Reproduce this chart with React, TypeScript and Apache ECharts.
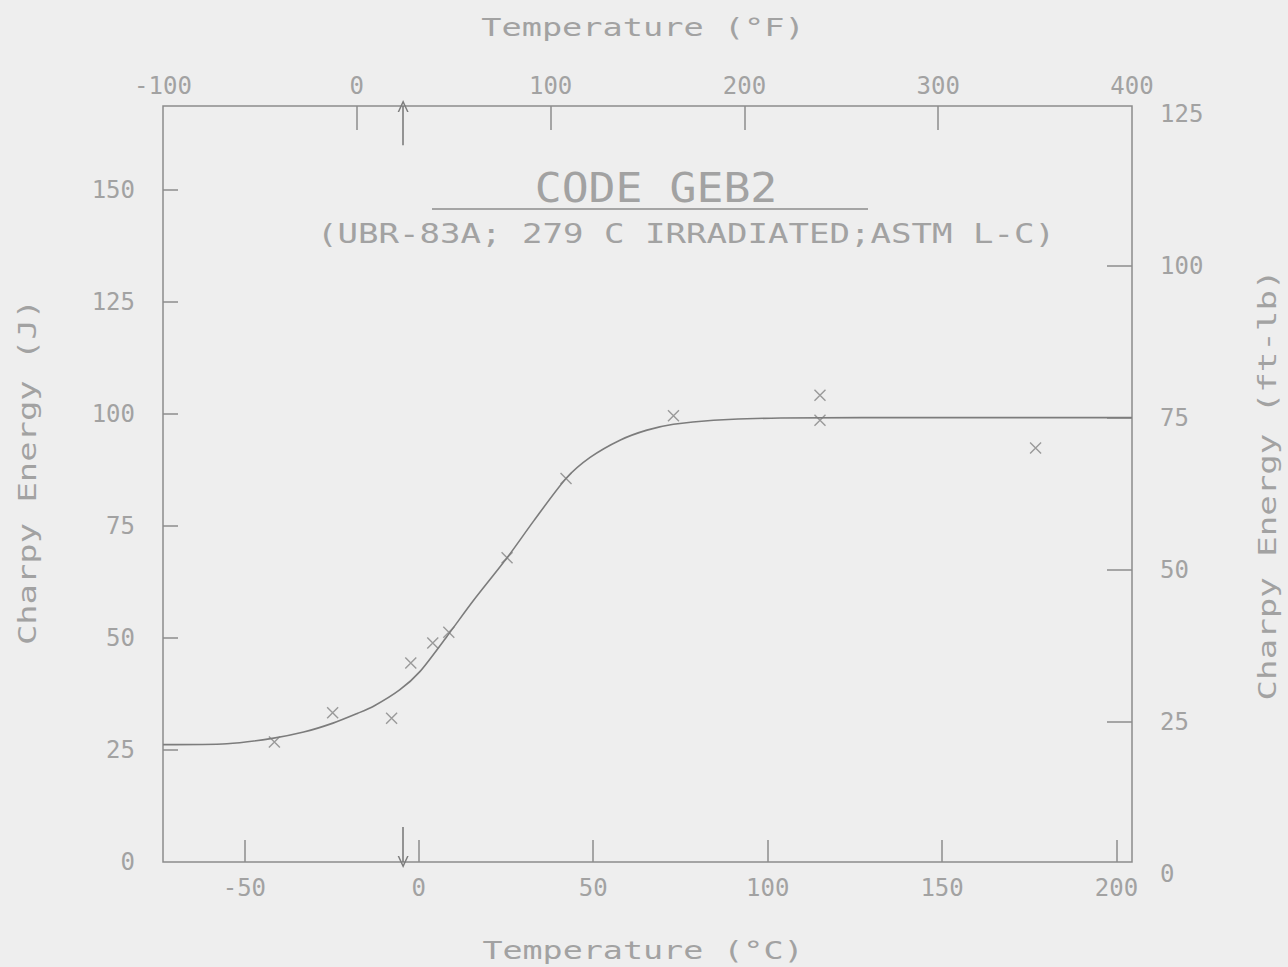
import React, { useEffect, useRef } from 'react';
import * as echarts from 'echarts';

// ---- data ----
const curveTempC = [-73.3, -55, -42, -33, -24.6, -17.5, -13.1, -5.5, 0.3, 8.0, 15.6, 25.3, 33, 42.2, 49.1, 57.8, 65.4, 73, 84.5, 103.7, 150, 204.4];
const curveEnergyJ = [26.2, 26.4, 27.6, 29.0, 31.0, 33.2, 34.7, 38.4, 42.5, 50.3, 58.3, 67.9, 76.2, 85.6, 90.3, 94.2, 96.4, 97.7, 98.6, 99.1, 99.2, 99.2];

const pointTempC = [-41.4, -24.7, -7.8, -2.3, 4.0, 8.6, 25.3, 42.2, 73.0, 115.0, 115.0, 176.8];
const pointEnergyJ = [26.8, 33.3, 32.1, 44.4, 48.9, 51.3, 67.9, 85.6, 99.6, 104.2, 98.6, 92.4];

const arrowTempC = -4.5;
const topArrowFromJ = 160;
const bottomArrowFromJ = 7.8;

const celsiusTicks = [-50, 0, 50, 100, 150, 200];
const fahrenheitLabels = [-100, 0, 100, 200, 300, 400];
const fahrenheitTickMarks = [0, 100, 200, 300];
const jouleTicks = [0, 25, 50, 75, 100, 125, 150];
const jouleTickMarks = [25, 50, 75, 100, 125, 150];
const ftlbTicks = [0, 25, 50, 75, 100, 125];
const ftlbTickMarks = [25, 50, 75, 100];

const C_MIN = -73.33;
const C_MAX = 204.44;
const J_MAX = 168.75;

const TITLE = 'CODE GEB2';
const SUBTITLE = '(UBR-83A; 279 C IRRADIATED;ASTM L-C)';

// ---- styles ----
const BG = '#eeeeee';
const TEXT = '#a2a2a2';
const FRAME = '#8c8c8c';
const CURVE = '#7c7c7c';
const MONO = '"DejaVu Sans Mono", "Liberation Mono", monospace';

const labelStyle = { color: TEXT, fontSize: 24, fontFamily: MONO };
const noLine = { show: false, onZero: false };

const option: any = {
  animation: false,
  backgroundColor: BG,
  grid: [
    { left: 163, top: 106, width: 969, height: 756, show: true, borderColor: FRAME, borderWidth: 1.5, backgroundColor: 'transparent' },
    { left: 163, top: 114, width: 969, height: 760, show: false },
  ],
  xAxis: [
    {
      type: 'value', gridIndex: 0, position: 'bottom', min: C_MIN, max: C_MAX,
      axisLine: noLine, splitLine: { show: false },
      axisTick: { show: true, inside: true, length: 22, customValues: celsiusTicks, lineStyle: { color: FRAME, width: 1.5 } },
      axisLabel: { ...labelStyle, customValues: celsiusTicks, margin: 14 },
    },
    {
      type: 'value', gridIndex: 0, position: 'top', min: -100, max: 400, interval: 100,
      axisLine: noLine, splitLine: { show: false },
      axisTick: { show: true, inside: true, length: 24, customValues: fahrenheitTickMarks, lineStyle: { color: FRAME, width: 1.5 } },
      axisLabel: { ...labelStyle, customValues: fahrenheitLabels, margin: 8, showMinLabel: true, showMaxLabel: true },
    },
    { type: 'value', gridIndex: 1, show: false, min: C_MIN, max: C_MAX, axisLine: noLine },
  ],
  yAxis: [
    {
      type: 'value', gridIndex: 0, position: 'left', min: 0, max: J_MAX, interval: 25,
      axisLine: noLine, splitLine: { show: false },
      axisTick: { show: true, inside: true, length: 15, customValues: jouleTickMarks, lineStyle: { color: FRAME, width: 1.5 } },
      axisLabel: { ...labelStyle, customValues: jouleTicks, margin: 28 },
    },
    {
      type: 'value', gridIndex: 1, position: 'right', min: 0, max: 125, interval: 25,
      axisLine: noLine, splitLine: { show: false },
      axisTick: { show: true, inside: true, length: 25, customValues: ftlbTickMarks, lineStyle: { color: FRAME, width: 1.5 } },
      axisLabel: { ...labelStyle, customValues: ftlbTicks, margin: 28 },
    },
  ],
  series: [
    {
      type: 'line', xAxisIndex: 0, yAxisIndex: 0,
      data: curveTempC.map((t, i) => [t, curveEnergyJ[i]]),
      smooth: 0.25, showSymbol: false, symbol: 'none',
      lineStyle: { color: CURVE, width: 1.6 },
      markLine: {
        silent: true,
        symbol: ['none', 'path://M0,10 L5,0 L10,10 L8.6,10 L5,3 L1.4,10 Z'],
        symbolSize: [11, 12],
        label: { show: false },
        lineStyle: { color: CURVE, width: 1.6, type: 'solid' },
        data: [
          [{ coord: [arrowTempC, topArrowFromJ] }, { coord: [arrowTempC, J_MAX] }],
          [{ coord: [arrowTempC, bottomArrowFromJ] }, { coord: [arrowTempC, 0] }],
        ],
      },
    },
    {
      type: 'scatter', xAxisIndex: 0, yAxisIndex: 0,
      data: pointTempC.map((t, i) => [t, pointEnergyJ[i]]),
      symbol: 'path://M0,0 L10,10 M10,0 L0,10',
      symbolSize: 11,
      itemStyle: { color: 'rgba(0,0,0,0)', borderColor: '#858585', borderWidth: 1.4 },
    },
  ],
  graphic: [
    { type: 'text', x: 643, y: 28, scaleX: 1.4, style: { text: 'Temperature (°F)', fill: TEXT, fontSize: 24, fontFamily: MONO, align: 'center', verticalAlign: 'middle' } },
    { type: 'text', x: 643, y: 951, scaleX: 1.39, style: { text: 'Temperature (°C)', fill: TEXT, fontSize: 24, fontFamily: MONO, align: 'center', verticalAlign: 'middle' } },
    { type: 'text', x: 28, y: 472, rotation: Math.PI / 2, scaleX: 1.41, style: { text: 'Charpy Energy (J)', fill: TEXT, fontSize: 24, fontFamily: MONO, align: 'center', verticalAlign: 'middle' } },
    { type: 'text', x: 1268, y: 485, rotation: Math.PI / 2, scaleX: 1.42, style: { text: 'Charpy Energy (ft-lb)', fill: TEXT, fontSize: 24, fontFamily: MONO, align: 'center', verticalAlign: 'middle' } },
    { type: 'text', x: 656, y: 188, scaleX: 1.12, style: { text: TITLE, fill: TEXT, fontSize: 40, fontFamily: MONO, align: 'center', verticalAlign: 'middle' } },
    { type: 'text', x: 686, y: 234, scaleX: 1.31, style: { text: SUBTITLE, fill: TEXT, fontSize: 26, fontFamily: MONO, align: 'center', verticalAlign: 'middle' } },
    { type: 'line', shape: { x1: 432, y1: 209, x2: 868, y2: 209 }, style: { stroke: FRAME, lineWidth: 1.5 } },
  ],
};

export default function App() {
  const ref = useRef<HTMLDivElement>(null);
  useEffect(() => {
    const chart = echarts.init(ref.current as HTMLDivElement, null, { renderer: 'svg' });
    chart.setOption(option);
    return () => chart.dispose();
  }, []);
  return <div ref={ref} style={{ position: 'absolute', left: 0, top: 0, width: 1288, height: 967 }} />;
}
